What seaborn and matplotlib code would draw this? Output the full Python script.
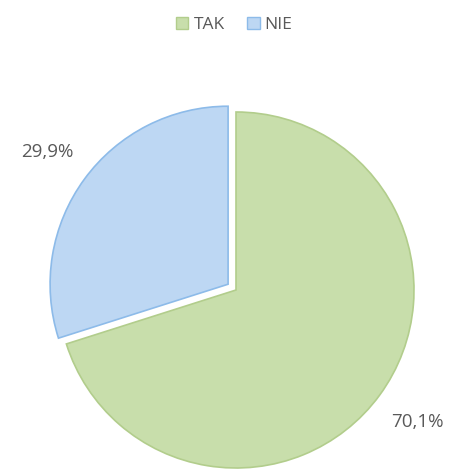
import matplotlib
matplotlib.use('Agg')
import matplotlib.pyplot as plt
import seaborn as sns
from matplotlib.patches import Patch

# data
labels = ['TAK', 'NIE']
shares = [70.1, 29.9]
face_colors = ['#c8deab', '#bdd7f3']
edge_colors = ['#b2cd8c', '#8dbbe9']

sns.set_theme(style='white')
plt.rcParams['font.family'] = ['Open Sans', 'DejaVu Sans']

fig = plt.figure(figsize=(4.49, 4.74), dpi=100)
# pie area in pixels: centre (236, 290), radius 178
ax = fig.add_axes([58 / 449, 6 / 474, 356 / 449, 356 / 474])

wedges, texts, autotexts = ax.pie(
    shares,
    startangle=90,
    counterclock=False,
    colors=face_colors,
    explode=[0, 0.055],
    autopct=lambda p: f'{p:.1f}%'.replace('.', ','),
    pctdistance=1.26,
    textprops={'fontsize': 13.5, 'color': '#595959'},
    wedgeprops={'linewidth': 1.2},
)
for w, ec in zip(wedges, edge_colors):
    w.set_edgecolor(ec)

ax.set_xlim(-1, 1)
ax.set_ylim(-1, 1)
ax.set_aspect('equal')

handles = [Patch(facecolor=fc, edgecolor=ec, label=l)
           for fc, ec, l in zip(face_colors, edge_colors, labels)]
fig.legend(handles=handles, loc='center', bbox_to_anchor=(0.522, 1 - 25 / 474),
           ncol=2, frameon=False, fontsize=12.5, handlelength=0.7, handleheight=0.7,
           handletextpad=0.3, columnspacing=1.3, labelcolor='#595959')

fig.savefig('out.png', dpi=100)
